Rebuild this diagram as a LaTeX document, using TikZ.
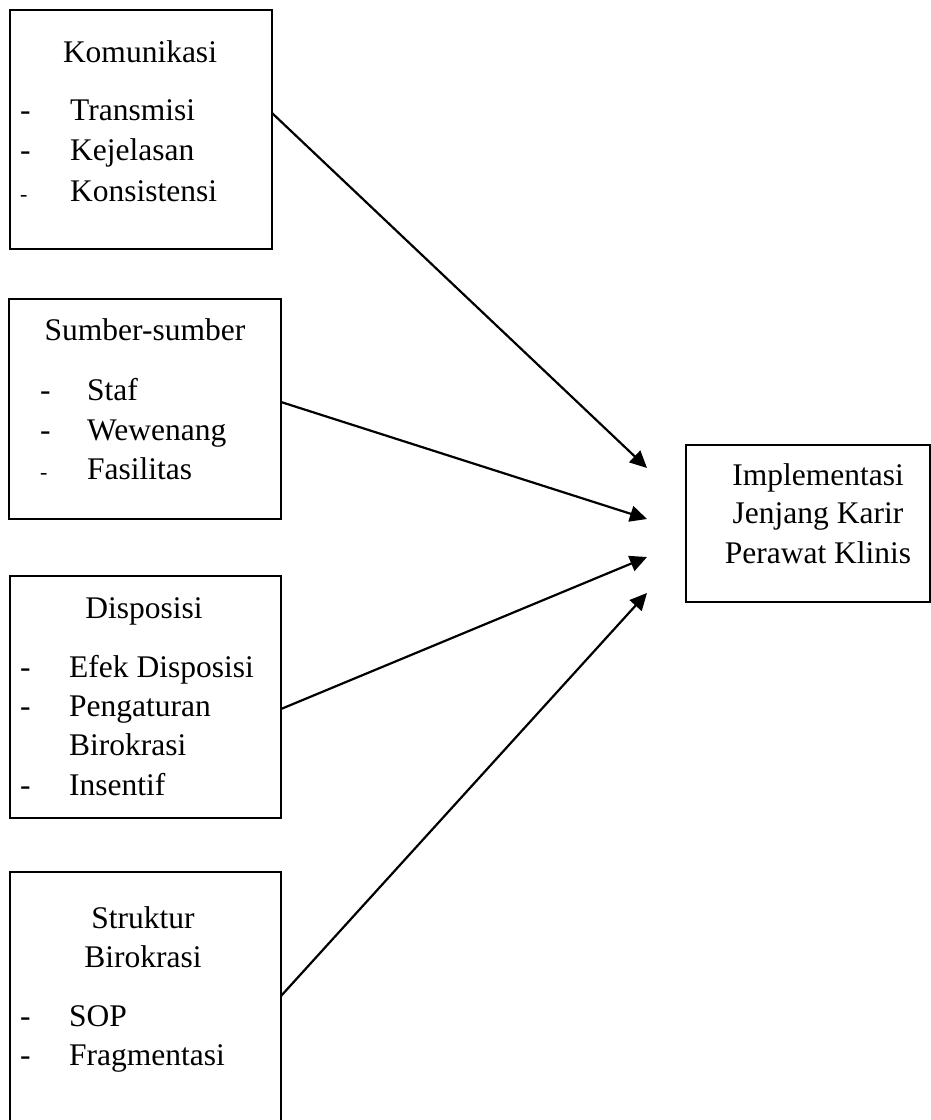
\documentclass[tikz,border=0pt]{standalone}
\usepackage{fontspec}
\setmainfont{Liberation Serif}
\usetikzlibrary{arrows.meta}
\begin{document}
\begin{tikzpicture}[x=1pt,y=-1pt,
  box/.style={draw, line width=2.2pt, inner sep=0pt},
  txt/.style={inner sep=0pt, font=\fontsize{31.5}{38}\selectfont},
  tiny/.style={inner sep=0pt, font=\fontsize{22}{26}\selectfont},
  arr/.style={line width=2.2pt, -{Triangle[length=17pt,width=16pt]}}]
\useasboundingbox (0,0) rectangle (931,1120);
% boxes
\node[box, minimum width=262pt, minimum height=239pt] (kom) at (141,129.5) {};
\node[box, minimum width=272pt, minimum height=220pt] (sum) at (145,409) {};
\node[box, minimum width=271pt, minimum height=242pt] (dis) at (145.5,697) {};
\node[box, minimum width=271pt, minimum height=260pt] (str) at (145.5,1002) {};
\node[box, minimum width=244pt, minimum height=157pt] (imp) at (808,523.5) {};
% Komunikasi
\node[txt, anchor=base] (kom-t) at (140,62) {Komunikasi};
\node[txt, anchor=base west] (kom-d1) at (20,120) {-};
\node[txt, anchor=base west] (kom-d2) at (20,160) {-};
\node[tiny, anchor=base west] (kom-d3) at (20,201) {-};
\node[txt, anchor=base west] (kom-1) at (70,120) {Transmisi};
\node[txt, anchor=base west] (kom-2) at (70,160) {Kejelasan};
\node[txt, anchor=base west] (kom-3) at (70,201) {Konsistensi};
% Sumber-sumber
\node[txt, anchor=base] (sum-t) at (145,340) {Sumber-sumber};
\node[txt, anchor=base west] (sum-d1) at (40,400) {-};
\node[txt, anchor=base west] (sum-d2) at (40,440) {-};
\node[tiny, anchor=base west] (sum-d3) at (40,479) {-};
\node[txt, anchor=base west] (sum-1) at (87,400) {Staf};
\node[txt, anchor=base west] (sum-2) at (87,440) {Wewenang};
\node[txt, anchor=base west] (sum-3) at (87,479) {Fasilitas};
% Disposisi
\node[txt, anchor=base] (dis-t) at (144,618) {Disposisi};
\node[txt, anchor=base west] (dis-d1) at (20,677) {-};
\node[txt, anchor=base west] (dis-d2) at (20,716) {-};
\node[txt, anchor=base west] (dis-d3) at (20,795) {-};
\node[txt, anchor=base west] (dis-1) at (69,677) {Efek Disposisi};
\node[txt, anchor=base west] (dis-2) at (69,716) {Pengaturan};
\node[txt, anchor=base west] (dis-2b) at (69,755) {Birokrasi};
\node[txt, anchor=base west] (dis-3) at (69,795) {Insentif};
% Struktur Birokrasi
\node[txt, anchor=base] (str-t1) at (143,928) {Struktur};
\node[txt, anchor=base] (str-t2) at (143,967) {Birokrasi};
\node[txt, anchor=base west] (str-d1) at (20,1026) {-};
\node[txt, anchor=base west] (str-d2) at (20,1065) {-};
\node[txt, anchor=base west] (str-1) at (69,1026) {SOP};
\node[txt, anchor=base west] (str-2) at (69,1065) {Fragmentasi};
% Implementasi
\node[txt, anchor=base] (imp-1) at (818,485) {Implementasi};
\node[txt, anchor=base] (imp-2) at (818,523) {Jenjang Karir};
\node[txt, anchor=base] (imp-3) at (818,563) {Perawat Klinis};
% connectors
\coordinate (s1) at (272,113);
\coordinate (s2) at (281,402);
\coordinate (s3) at (281,709);
\coordinate (s4) at (281,996);
\coordinate (t1) at (647,468);
\coordinate (t2) at (647,519);
\coordinate (t3) at (647,557);
\coordinate (t4) at (647,593);
\draw[arr] (s1) -- (t1);
\draw[arr] (s2) -- (t2);
\draw[arr] (s3) -- (t3);
\draw[arr] (s4) -- (t4);
\end{tikzpicture}
\end{document}
